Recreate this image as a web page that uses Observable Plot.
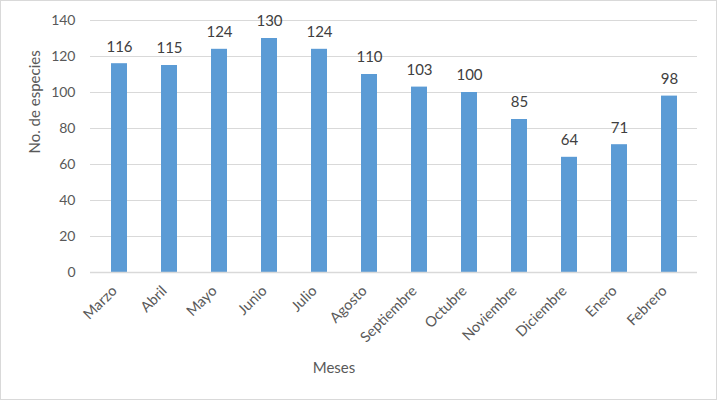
<!DOCTYPE html>
<html>
<head>
<meta charset="utf-8">
<script src="https://cdn.jsdelivr.net/npm/d3@7"></script>
<script src="https://cdn.jsdelivr.net/npm/@observablehq/plot@0.6"></script>
<style>
  html, body { margin: 0; padding: 0; background: #fff; }
  #chart svg { display: block; outline: 1px solid #d9d9d9; outline-offset: -1px; }
</style>
</head>
<body>
<div id="chart"></div>
<script>
const months = ["Marzo","Abril","Mayo","Junio","Julio","Agosto","Septiembre","Octubre","Noviembre","Diciembre","Enero","Febrero"];
const species = [116,115,124,130,124,110,103,100,85,64,71,98];
const yTicks = [0,20,40,60,80,100,120,140];

const data = months.map((m, i) => ({month: m, value: species[i]}));
const font = "Lato, 'Open Sans', sans-serif";

const chart = Plot.plot({
  width: 717,
  height: 400,
  marginLeft: 90,
  marginRight: 20,
  marginTop: 20,
  marginBottom: 128,
  style: {fontFamily: font, fontSize: "14px", color: "#595959", background: "#fff"},
  x: {domain: months, paddingInner: 0.69, paddingOuter: 0.345, label: null},
  y: {domain: [0, 140], ticks: yTicks, label: null},
  marks: [
    Plot.gridY(yTicks, {stroke: "#d9d9d9", strokeOpacity: 1, strokeWidth: 1}),
    Plot.barY(data, {x: "month", y: "value", fill: "#5b9bd5"}),
    Plot.ruleY([0], {stroke: "#d9d9d9", strokeWidth: 1.5}),
    Plot.text(data, {x: "month", y: "value", text: d => String(d.value), dy: -17, fill: "#404040", fontSize: 15}),
    Plot.axisY(yTicks, {tickSize: 0, tickPadding: 15, fill: "#595959", fontSize: 14, label: null}),
    Plot.axisX({tickSize: 0, tickRotate: -45, tickPadding: 10, fill: "#595959", fontSize: 14.5, label: null, dx: -5, dy: 6}),
    Plot.text(["Meses"], {frameAnchor: "bottom", dx: -60, dy: 100, fill: "#595959", fontSize: 15}),
    Plot.text(["No. de especies"], {frameAnchor: "left", dx: -55, rotate: -90, fill: "#595959", fontSize: 15, dy: 7})
  ]
});
document.getElementById("chart").append(chart);
</script>
</body>
</html>
